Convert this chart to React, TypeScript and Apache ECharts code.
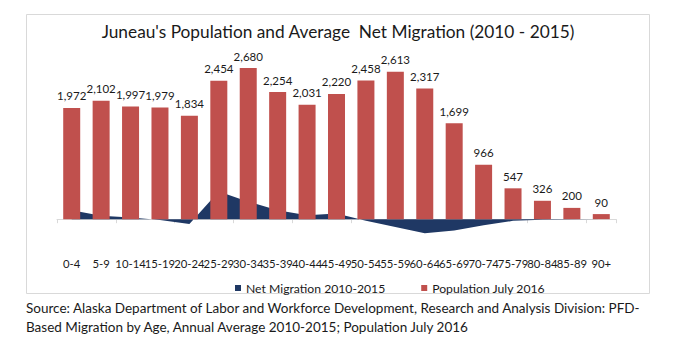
import React, { useEffect, useRef } from "react";
import * as echarts from "echarts";

const categories = ["0-4", "5-9", "10-14", "15-19", "20-24", "25-29", "30-34", "35-39", "40-44", "45-49", "50-54", "55-59", "60-64", "65-69", "70-74", "75-79", "80-84", "85-89", "90+"];
const population = [1972, 2102, 1997, 1979, 1834, 2454, 2680, 2254, 2031, 2220, 2458, 2613, 2317, 1699, 966, 547, 326, 200, 90];
const netMigration = [16, 6, 3, -1.5, -8.5, 49, 31, 16, 7, 10, -3, -14, -25, -20, -11, -3, -1, -0.5, 0];

const titleText = "Juneau's Population and Average  Net Migration (2010 - 2015)";
const sourceLines = [
  "Source: Alaska Department of Labor and Workforce Development, Research and Analysis Division: PFD-",
  "Based Migration by Age, Annual Average 2010-2015; Population July 2016",
];

const FONT = "Lato, 'Open Sans', sans-serif";

export default function App() {
  const ref = useRef<HTMLDivElement>(null);
  useEffect(() => {
    document.body.style.margin = "0";
    const chart = echarts.init(ref.current!, null, { renderer: "svg" });
    chart.setOption({
      animation: false,
      backgroundColor: "#ffffff",
      textStyle: { fontFamily: FONT },
      title: {
        text: titleText,
        left: "center",
        top: 18,
        textStyle: { fontFamily: FONT, fontSize: 17.3, fontWeight: "normal", color: "#1a1a1a" },
      },
      legend: {
        left: 230,
        top: 277,
        icon: "rect",
        itemWidth: 6,
        itemHeight: 6,
        itemGap: 36,
        textStyle: { fontFamily: FONT, fontSize: 12.2, color: "#1a1a1a" },
        data: ["Net Migration 2010-2015", "Population July 2016"],
      },
      grid: { left: 57, right: 60, top: 50, bottom: 101, containLabel: false },
      xAxis: [
        {
          type: "category",
          data: categories,
          axisLine: { onZero: true, lineStyle: { color: "#d9d9d9" } },
          axisTick: { show: true, length: 4, lineStyle: { color: "#d9d9d9" } },
          axisLabel: { show: false },
        },
        {
          type: "category",
          data: categories,
          position: "bottom",
          axisLine: { show: false, onZero: false },
          axisTick: { show: false },
          axisLabel: { show: true, interval: 0, margin: 5, fontSize: 11.3, color: "#1a1a1a", fontFamily: FONT },
        },
      ],
      yAxis: [
        { type: "value", min: -600, max: 3000, show: false, splitLine: { show: false } },
        { type: "value", min: -60, max: 300, show: false, splitLine: { show: false } },
      ],
      series: [
        {
          name: "Net Migration 2010-2015",
          type: "line",
          data: netMigration,
          xAxisIndex: 0,
          yAxisIndex: 1,
          symbol: "none",
          clip: false,
          lineStyle: { width: 0, color: "#1F3864" },
          itemStyle: { color: "#1F3864" },
          areaStyle: { color: "#1F3864", opacity: 1 },
          z: 1,
        },
        {
          name: "Population July 2016",
          type: "bar",
          data: population,
          xAxisIndex: 0,
          yAxisIndex: 0,
          barWidth: 17,
          itemStyle: { color: "#C0504D" },
          z: 3,
          label: {
            show: true,
            position: "top",
            distance: 6,
            fontSize: 11.5,
            fontFamily: FONT,
            color: "#1a1a1a",
            formatter: (p: any) => Number(p.value).toLocaleString("en-US"),
          },
        },
      ],
      graphic: [
        {
          type: "rect",
          shape: { x: 26.5, y: 14.5, width: 623, height: 279 },
          style: { fill: "none", stroke: "#d9d9d9", lineWidth: 1 },
          silent: true,
          z: -1,
        },
        {
          type: "text",
          left: 26,
          top: 301,
          style: { text: sourceLines[0], fontSize: 13.5, fontFamily: FONT, fill: "#1a1a1a" },
        },
        {
          type: "text",
          left: 26,
          top: 320,
          style: { text: sourceLines[1], fontSize: 13.5, fontFamily: FONT, fill: "#1a1a1a" },
        },
      ],
    });
    return () => chart.dispose();
  }, []);
  return <div ref={ref} style={{ width: 676, height: 354 }} />;
}
